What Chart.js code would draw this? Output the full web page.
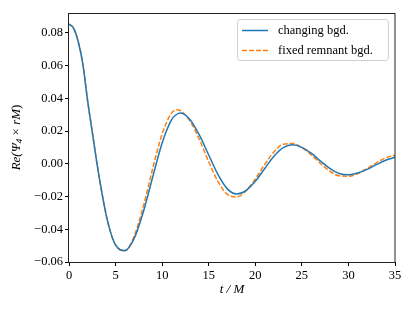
<!DOCTYPE html>
<html>
<head>
<meta charset="utf-8">
<script src="https://cdn.jsdelivr.net/npm/chart.js@4"></script>
<style>
html, body { margin: 0; padding: 0; background: #fff; }
#wrap { width: 415px; height: 311px; }
</style>
</head>
<body>
<div id="wrap"><canvas id="grafica" width="415" height="311"></canvas></div>
<script>
// Datos: t/M y Re(Psi4 x rM)
const tiempos = [0, 0.5, 1, 1.5, 2, 2.5, 3, 3.5, 4, 4.5, 5, 5.5, 6, 7, 8, 9, 10, 11, 11.5, 12, 13, 14, 15, 16, 17, 18,
                 19, 20, 21, 22, 23, 24, 25, 26, 27, 28, 29, 30, 31, 32, 33, 34, 35];
const fondoCambiante = [0.0855, 0.0828, 0.0745, 0.0605, 0.0385, 0.0194, 0.0003, -0.0167, -0.0315, -0.0425,
                        -0.0496, -0.0525, -0.0530, -0.0456,
                        -0.0290, -0.0077, 0.0128, 0.0269, 0.0300, 0.0310, 0.0269, 0.0175, 0.0054,
                        -0.0066, -0.0153, -0.0184, -0.0163, -0.0107, -0.0030, 0.0046, 0.0099,
                        0.0116, 0.0101, 0.0065, 0.0017, -0.0028, -0.0059, -0.0067, -0.0056,
                        -0.0034, -0.0005, 0.0022, 0.0040];
const fondoFijo = [0.0855, 0.0828, 0.0745, 0.0605, 0.0385, 0.0194, 0.0003, -0.0167, -0.0315, -0.0426,
                   -0.0497, -0.0527, -0.0531, -0.0441,
                   -0.0256, -0.0025, 0.0183, 0.0310, 0.0330, 0.0323, 0.0261, 0.0148, 0.0013,
                   -0.0109, -0.0187, -0.0202, -0.0165, -0.0093, -0.0005, 0.0073, 0.0120,
                   0.0124, 0.0099, 0.0055, 0.0002, -0.0045, -0.0073, -0.0076, -0.0060,
                   -0.0029, 0.0006, 0.0037, 0.0053];
const ticksX = [0, 5, 10, 15, 20, 25, 30, 35];
const ticksY = [-0.06, -0.04, -0.02, 0.00, 0.02, 0.04, 0.06, 0.08];

const fuente = '"Liberation Serif", "DejaVu Serif", serif';
Chart.defaults.font.family = fuente;
Chart.defaults.font.size = 12;
Chart.defaults.color = '#000';

// Marco de los ejes (cuatro lados)
const marco = {
    id: 'marco',
    afterDatasetsDraw(chart) {
        const a = chart.chartArea;
        const c = chart.ctx;
        c.save();
        c.strokeStyle = '#222';
        c.lineWidth = 1;
        c.strokeRect(Math.round(a.left) - 0.5, Math.round(a.top) + 0.5,
                     Math.round(a.right - a.left) + 0.5, Math.round(a.bottom - a.top));
        c.restore();
    }
};

// Título del eje y con subíndice
const tituloY = {
    id: 'tituloY',
    afterDraw(chart) {
        const c = chart.ctx;
        const a = chart.chartArea;
        const partes = [
            { t: 'Re(\u03A8', f: 'italic 13px ' + fuente, dy: 0 },
            { t: '4', f: 'italic 9px ' + fuente, dy: 3 },
            { t: ' \u00D7 ', f: '13px ' + fuente, dy: 0 },
            { t: 'rM', f: 'italic 13px ' + fuente, dy: 0 },
            { t: ')', f: '13px ' + fuente, dy: 0 }
        ];
        c.save();
        let ancho = 0;
        partes.forEach(p => { c.font = p.f; p.w = c.measureText(p.t).width; ancho += p.w; });
        c.translate(17, (a.top + a.bottom) / 2);
        c.rotate(-Math.PI / 2);
        c.fillStyle = '#000';
        c.textBaseline = 'middle';
        let x = -ancho / 2;
        partes.forEach(p => {
            c.font = p.f;
            c.fillText(p.t, x, p.dy);
            x += p.w;
        });
        c.restore();
    }
};

// Leyenda con recuadro, arriba a la derecha
const leyenda = {
    id: 'leyenda',
    afterDraw(chart) {
        const c = chart.ctx;
        c.save();
        c.fillStyle = 'rgba(255,255,255,0.8)';
        c.strokeStyle = '#d0d0d0';
        c.lineWidth = 1;
        c.beginPath();
        c.roundRect(237.5, 19.5, 151, 41, 3);
        c.fill();
        c.stroke();
        chart.data.datasets.forEach((ds, i) => {
            const y = 30.5 + i * 20;
            c.strokeStyle = ds.borderColor;
            c.lineWidth = ds.borderWidth;
            c.setLineDash(ds.borderDash || []);
            c.beginPath();
            c.moveTo(242, y);
            c.lineTo(268, y);
            c.stroke();
            c.setLineDash([]);
            c.fillStyle = '#000';
            c.font = '12.5px ' + fuente;
            c.textBaseline = 'middle';
            c.fillText(ds.label, 278, y);
        });
        c.restore();
    }
};

const ctx = document.getElementById('grafica').getContext('2d');

const chart = new Chart(ctx, {
    type: 'line',
    data: {
        datasets: [{
            label: 'changing bgd.',
            data: tiempos.map((t, i) => ({ x: t, y: fondoCambiante[i] })),
            borderColor: '#1f77b4',
            borderWidth: 1.5,
            pointRadius: 0,
            cubicInterpolationMode: 'monotone',
            fill: false
        }, {
            label: 'fixed remnant bgd.',
            data: tiempos.map((t, i) => ({ x: t, y: fondoFijo[i] })),
            borderColor: '#ff7f0e',
            borderWidth: 1.5,
            borderDash: [5, 2],
            pointRadius: 0,
            cubicInterpolationMode: 'monotone',
            fill: false
        }]
    },
    options: {
        responsive: false,
        animation: false,
        devicePixelRatio: 1,
        layout: { padding: { left: 0, top: 13, right: 20, bottom: 0 } },
        plugins: {
            legend: { display: false },
            tooltip: { enabled: false }
        },
        scales: {
            x: {
                type: 'linear',
                min: 0,
                max: 35,
                afterBuildTicks: s => { s.ticks = ticksX.map(v => ({ value: v })); },
                afterFit: s => { s.height = 49; },
                grid: { drawOnChartArea: false, drawTicks: true, tickLength: 4, color: '#000' },
                border: { display: false },
                ticks: { padding: 2, font: { size: 12.5 }, callback: v => String(v) },
                title: {
                    display: true,
                    text: 't / M',
                    font: { style: 'italic', size: 13 },
                    padding: { top: 14, bottom: 14 }
                }
            },
            y: {
                type: 'linear',
                min: -0.06,
                max: 0.0922,
                afterBuildTicks: s => { s.ticks = ticksY.map(v => ({ value: v })); },
                afterFit: s => { s.width = 69; },
                grid: { drawOnChartArea: false, drawTicks: true, tickLength: 4, color: '#000' },
                border: { display: false },
                ticks: { padding: 2, font: { size: 12.5 }, callback: v => v.toFixed(2).replace('-', '\u2212') },
                title: { display: false }
            }
        }
    },
    plugins: [marco, tituloY, leyenda]
});
</script>
</body>
</html>
